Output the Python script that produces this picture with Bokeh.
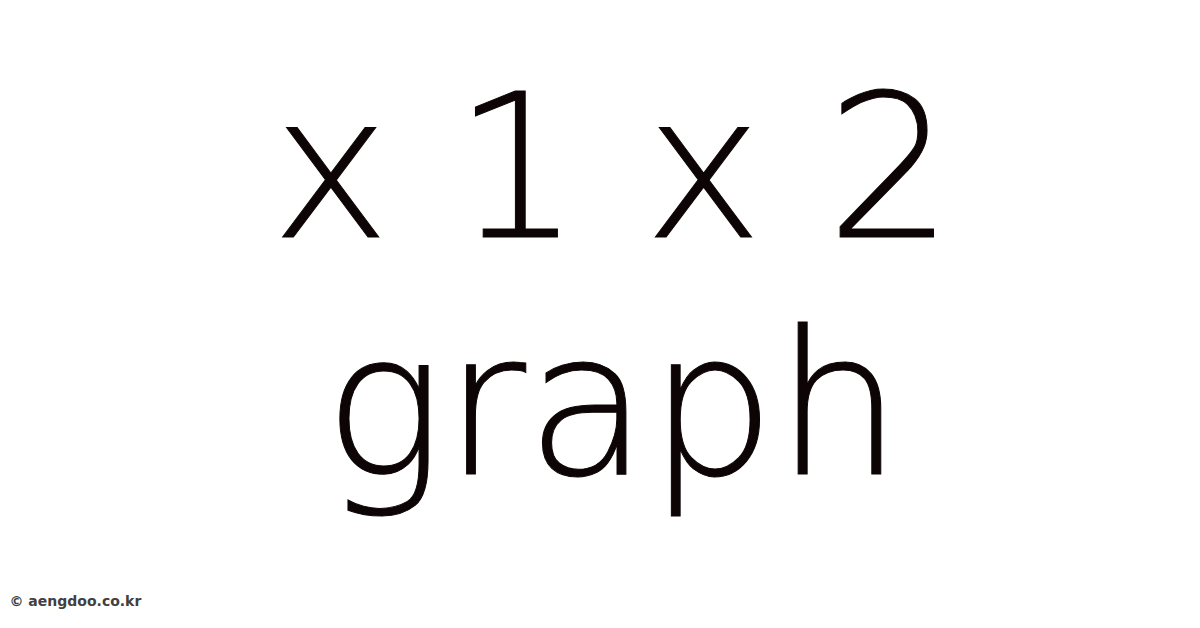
from bokeh.plotting import figure
from bokeh.models import Range1d
from bokeh.core.properties import value
from bokeh.embed import file_html
from bokeh.resources import INLINE

# Text content
title_lines = ["x 1 x 2", "graph"]
credit = ["© aengdoo.co.kr"]

# Layout (screen-like coordinates, 1 unit = 1 px)
W, H = 1184, 612
line_x = [612, 616]
line_y = [445, 208]
credit_x = [9]
credit_y = [12]

p = figure(width=W, height=H, output_backend="svg", toolbar_location=None,
           x_range=Range1d(0, W), y_range=Range1d(0, H), min_border=0)
p.axis.visible = False
p.grid.visible = False
p.outline_line_color = None
p.background_fill_color = "white"
p.border_fill_color = "white"

p.text(x=line_x, y=line_y, text=title_lines, text_align="center",
       text_baseline="alphabetic", text_font=value("DejaVu Sans"),
       text_font_size="200px", text_color="#0c0405",
       text_outline_color="#0c0405")

p.text(x=credit_x, y=credit_y, text=credit, text_align="left",
       text_baseline="alphabetic", text_font=value("DejaVu Sans"),
       text_font_size="14px", text_font_style="bold", text_color="#404040")

open("out.html", "w").write(file_html(p, INLINE))
